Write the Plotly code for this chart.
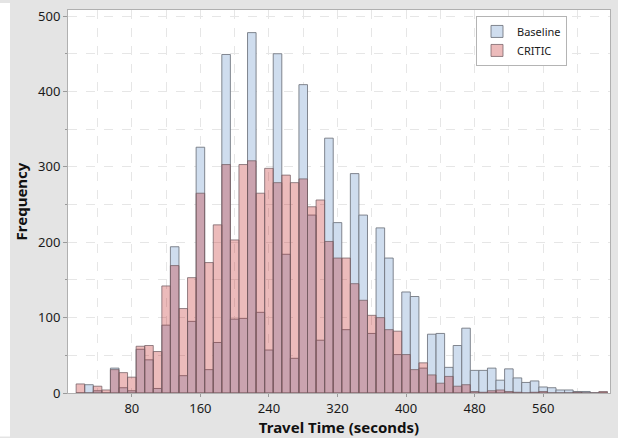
import plotly.graph_objects as go

bin_centers = [20, 30, 40, 50, 60, 70, 80, 90, 100, 110, 120, 130, 140, 150, 160, 170,
               180, 190, 200, 210, 220, 230, 240, 250, 260, 270, 280, 290, 300, 310,
               320, 330, 340, 350, 360, 370, 380, 390, 400, 410, 420, 430, 440, 450,
               460, 470, 480, 490, 500, 510, 520, 530, 540, 550, 560, 570, 580, 590,
               600, 610, 620, 630]
baseline_counts = [0, 11, 3, 0, 33, 7, 3, 58, 44, 6, 90, 194, 23, 95, 326, 31,
                   67, 449, 98, 99, 478, 107, 57, 450, 184, 46, 409, 236, 70, 338,
                   226, 84, 291, 236, 79, 219, 179, 51, 134, 128, 33, 78, 79, 34,
                   63, 86, 30, 30, 33, 17, 32, 20, 14, 16, 8, 7, 4, 4,
                   2, 2, 0, 0]
critic_counts = [12, 0, 9, 4, 31, 27, 21, 62, 63, 55, 142, 169, 112, 153, 265, 173,
                 223, 303, 203, 303, 308, 265, 298, 279, 289, 279, 284, 247, 256, 201,
                 179, 179, 145, 123, 103, 100, 84, 82, 51, 31, 40, 24, 13, 22,
                 9, 11, 2, 1, 3, 4, 2, 1, 0, 1, 2, 0, 0, 0,
                 1, 0, 0, 2]
series_names = ["Baseline", "CRITIC"]
x_tick_vals = [80, 160, 240, 320, 400, 480, 560]
y_tick_vals = [0, 100, 200, 300, 400, 500]
bin_width = 10

FONT = "Noto Sans"
W, H = 618, 438
ML, MR, MT, MB = 68, 8, 7, 44
PW, PH = W - ML - MR, H - MT - MB
GRID = "#e6e6e6"

fig = go.Figure()
fig.add_trace(go.Bar(
    x=bin_centers, y=baseline_counts, width=bin_width, name=series_names[0],
    marker=dict(color="rgb(207,221,238)", line=dict(color="rgba(110,115,125,0.85)", width=1)),
))
fig.add_trace(go.Bar(
    x=bin_centers, y=critic_counts, width=bin_width, name=series_names[1],
    marker=dict(color="rgba(190,20,20,0.29)", line=dict(color="rgba(115,95,100,0.75)", width=1)),
))

fig.update_layout(
    width=W, height=H,
    margin=dict(l=ML, r=MR, t=MT, b=MB),
    barmode="overlay",
    paper_bgcolor="#e4e4e4",
    plot_bgcolor="white",
    font=dict(family=FONT, size=13, color="#1a1a1a"),
    showlegend=True,
    legend=dict(
        x=(476 - ML) / PW, y=(H - MB - 13) / PH, xanchor="left", yanchor="top",
        bgcolor="white", bordercolor="#b4b4b4", borderwidth=1,
        font=dict(family=FONT, size=11, color="#1a1a1a"),
        itemwidth=30, tracegroupgap=0,
    ),
    xaxis=dict(
        range=[5.5, 638], tickvals=x_tick_vals, ticks="outside", ticklen=3,
        tickcolor="#9a9a9a",
        showgrid=True, gridcolor=GRID, griddash="dash", gridwidth=1,
        minor=dict(dtick=40, tick0=0, showgrid=True, gridcolor=GRID, griddash="dash"),
        showline=True, linecolor="#b0b0b0", mirror=True, zeroline=False,
        title=dict(text="<b>Travel Time (seconds)</b>", font=dict(family=FONT, size=15, color="#111"), standoff=4),
        tickfont=dict(size=13),
    ),
    yaxis=dict(
        range=[0, 508], tickvals=y_tick_vals, ticks="outside", ticklen=4,
        tickcolor="#9a9a9a",
        showgrid=True, gridcolor=GRID, griddash="dash", gridwidth=1,
        minor=dict(dtick=50, tick0=0, showgrid=True, gridcolor=GRID, griddash="dash",
                   ticks="outside", ticklen=2, tickcolor="#9a9a9a"),
        showline=True, linecolor="#b0b0b0", mirror=True, zeroline=False,
        title=dict(text="<b>Frequency</b>", font=dict(family=FONT, size=15, color="#111"), standoff=6),
        tickfont=dict(size=13),
    ),
    shapes=[
        dict(type="rect", xref="paper", yref="paper", x0=-ML / PW, x1=(10 - ML) / PW,
             y0=-MB / PH, y1=1 + MT / PH,
             fillcolor="white", line=dict(width=0), layer="below"),
    ],
)

fig.write_html(
    "out.html",
    config={"displayModeBar": False},
    post_script="document.body.style.margin='0';document.body.style.overflow='hidden';",
)
